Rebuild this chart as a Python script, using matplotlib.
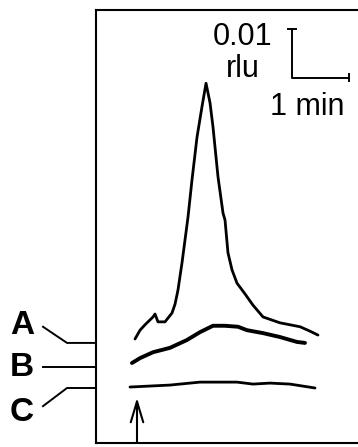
import matplotlib
matplotlib.use("Agg")
import matplotlib.pyplot as plt
import numpy as np

plt.rcParams['font.family'] = ['Liberation Sans', 'DejaVu Sans']

# Time (min) after injection (arrow at t = 0) and signal (rlu) per trace
t_A = [-0.035, 0.053, 0.140, 0.281, 0.316, 0.368, 0.491, 0.614, 0.667, 0.719, 0.789,
       0.842, 0.895, 0.965, 1.053, 1.140, 1.211, 1.281, 1.333, 1.421, 1.509, 1.544,
       1.596, 1.667, 1.754, 1.895, 2.035, 2.211, 2.509, 2.860, 3.035, 3.175]
s_A = [0.0008, 0.0026, 0.0037, 0.0053, 0.0059, 0.0043, 0.0043, 0.0061, 0.0079, 0.0108,
       0.0163, 0.0210, 0.0257, 0.0333, 0.0420, 0.0482, 0.0530, 0.0490, 0.0441, 0.0339,
       0.0265, 0.0251, 0.0184, 0.0149, 0.0122, 0.0100, 0.0077, 0.0053, 0.0041, 0.0033,
       0.0024, 0.0016]

t_B = [-0.088, 0.053, 0.281, 0.579, 0.877, 1.105, 1.333, 1.544, 1.772, 1.930, 2.211,
       2.509, 2.807, 2.947]
s_B = [0.0008, 0.0018, 0.0030, 0.0039, 0.0055, 0.0071, 0.0084, 0.0084, 0.0082, 0.0075,
       0.0069, 0.0061, 0.0051, 0.0049]

t_C = [-0.123, 0.579, 1.105, 1.456, 1.754, 2.035, 2.333, 2.684, 3.123]
s_C = [0.0002, 0.0006, 0.0012, 0.0012, 0.0012, 0.0008, 0.0010, 0.0008, 0.0000]

labels = ['A', 'B', 'C']
offsets = [0.0092, 0.0043, 0.0]   # vertical display offsets (rlu)
widths = [2.0, 2.8, 2.0]

fig = plt.figure(figsize=(3.58, 4.47), dpi=100)
ax = fig.add_axes([96/358, 4/447, 262/358, 433/447])
ax.set_xlim(-0.7193, 3.8772)
ax.set_ylim(-0.011224, 0.077143)
ax.set_xticks([]); ax.set_yticks([])
ax.spines['right'].set_visible(False)
for sp in ['left', 'top', 'bottom']:
    ax.spines[sp].set_linewidth(1.5)

for (tt, ss), off, lw in zip([(t_A, s_A), (t_B, s_B), (t_C, s_C)], offsets, widths):
    ax.plot(tt, np.array(ss) + off, color='black', lw=lw, solid_capstyle='round',
            solid_joinstyle='round')

# Leader lines and labels
xa = ax.get_xlim()[0]
leader = [0.0033, 0.0, -0.0037]
label_y = [0.0127, 0.0041, -0.0049]
for lab, off, dy, ly in zip(labels, offsets, leader, label_y):
    if dy == 0:
        ax.plot([-1.649, xa], [off, off], color='black', lw=1.4, clip_on=False)
    else:
        ax.plot([-1.649, -1.228, xa], [off + dy, off, off], color='black', lw=1.4,
                clip_on=False)
    ax.text(-2.02, ly, lab, fontsize=24, fontweight='bold', ha='center', va='center',
            clip_on=False)

# Injection arrow
ax.annotate('', xy=(0, -0.0020), xytext=(0, -0.0112),
            arrowprops=dict(arrowstyle='->,head_length=1.5,head_width=0.45',
                            color='black', lw=1.5, shrinkA=0, shrinkB=0))

# Scale bar
x0, y0 = 2.72, 0.0633
ax.plot([x0, x0, x0 + 1.0], [y0 + 0.01, y0, y0], color='black', lw=1.4)
ax.plot([x0 - 0.07, x0 + 0.07], [y0 + 0.01, y0 + 0.01], color='black', lw=1.4)
ax.plot([x0 + 1.0, x0 + 1.0], [y0 - 0.0007, y0 + 0.0007], color='black', lw=1.4)
ax.text(1.86, 0.0700, '0.01', fontsize=22, ha='center', va='baseline')
ax.text(1.86, 0.0635, 'rlu', fontsize=22, ha='center', va='baseline')
ax.text(2.33, 0.0557, '1 min', fontsize=22, ha='left', va='baseline')

fig.savefig('out.png', dpi=100)
